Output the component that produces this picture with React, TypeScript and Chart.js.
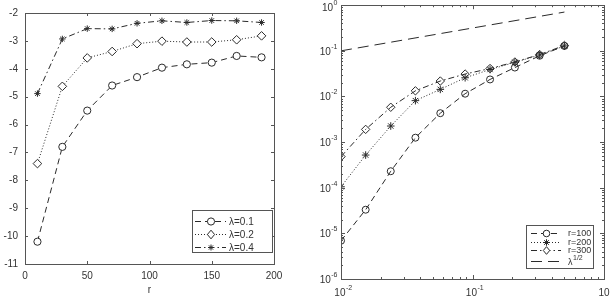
import React, { useEffect, useRef } from "react";
import { Chart, registerables } from "chart.js";
Chart.register(...registerables);

// ---------- Left panel data ----------
const leftR = [10, 30, 50, 70, 90, 110, 130, 150, 170, 190];
const leftLambda01 = [-10.2, -6.8, -5.5, -4.6, -4.3, -3.96, -3.84, -3.78, -3.54, -3.59];
const leftLambda02 = [-7.4, -4.63, -3.61, -3.38, -3.1, -3.01, -3.04, -3.04, -2.96, -2.82];
const leftLambda04 = [-4.89, -2.93, -2.56, -2.57, -2.37, -2.28, -2.34, -2.27, -2.28, -2.34];
const leftXTicks = [0, 50, 100, 150, 200];
const leftYTicks = [-2, -3, -4, -5, -6, -7, -8, -9, -10, -11];
const leftLabels = ["λ=0.1", "λ=0.2", "λ=0.4"];

// ---------- Right panel data ----------
const rightLambda = [0.01, 0.0154, 0.0239, 0.0368, 0.0569, 0.0879, 0.136, 0.21, 0.324, 0.5];
const rightR100 = [6.9e-6, 3.3e-5, 2.3e-4, 1.25e-3, 4.3e-3, 0.0115, 0.0236, 0.043, 0.078, 0.128];
const rightR200 = [1.05e-4, 5.2e-4, 2.25e-3, 8.1e-3, 0.0143, 0.0257, 0.039, 0.056, 0.081, 0.128];
const rightR300 = [4.8e-4, 1.9e-3, 5.8e-3, 0.0133, 0.0218, 0.031, 0.041, 0.057, 0.083, 0.131];
const sqrtLambdaX = [0.01, 0.5];
const sqrtLambdaY = [0.1, 0.707];
const rightXExps = [-2, -1, 0];
const rightYExps = [0, -1, -2, -3, -4, -5, -6];
const rightLabels = ["r=100", "r=200", "r=300"];

const FONT = "'Liberation Sans', Arial, sans-serif";
const LINE = "#2a2a2a";
const FRAME = "#555555";
const TEXT = "#333333";

const DASH = [6, 4];
const DOT = [1, 2];
const DASHDOT = [6, 3, 1.5, 3];
const LONGDASH = [11, 6];

function drawMarker(ctx: CanvasRenderingContext2D, style: string, x: number, y: number, r: number, fill: string) {
  ctx.save();
  ctx.setLineDash([]);
  ctx.strokeStyle = LINE;
  ctx.lineWidth = 1;
  ctx.beginPath();
  if (style === "circle") {
    ctx.arc(x, y, r, 0, Math.PI * 2);
  } else if (style === "diamond") {
    ctx.moveTo(x, y - r * 1.2);
    ctx.lineTo(x + r, y);
    ctx.lineTo(x, y + r * 1.2);
    ctx.lineTo(x - r, y);
    ctx.closePath();
  } else if (style === "star") {
    for (let i = 0; i < 4; i++) {
      const a = (i * Math.PI) / 4;
      ctx.moveTo(x - r * Math.cos(a), y - r * Math.sin(a));
      ctx.lineTo(x + r * Math.cos(a), y + r * Math.sin(a));
    }
  }
  if (fill !== "none" && style !== "star") {
    ctx.fillStyle = fill;
    ctx.fill();
  }
  ctx.stroke();
  ctx.restore();
}

function drawPow(
  ctx: CanvasRenderingContext2D,
  base: string,
  exp: string,
  x: number,
  y: number,
  align: "left" | "right" | "center",
  size: number,
  esize: number,
  raise: number
) {
  ctx.save();
  ctx.fillStyle = TEXT;
  ctx.textBaseline = "alphabetic";
  ctx.textAlign = "left";
  ctx.font = `${size}px ${FONT}`;
  const wb = ctx.measureText(base).width;
  ctx.font = `${esize}px ${FONT}`;
  const we = ctx.measureText(exp).width;
  const total = wb + we;
  let sx = x;
  if (align === "right") sx = x - total;
  else if (align === "center") sx = x - total / 2;
  ctx.font = `${size}px ${FONT}`;
  ctx.fillText(base, sx, y);
  ctx.font = `${esize}px ${FONT}`;
  ctx.fillText(exp, sx + wb + 0.5, y - raise);
  ctx.restore();
}

function drawFrame(ctx: CanvasRenderingContext2D, a: any) {
  ctx.save();
  ctx.strokeStyle = FRAME;
  ctx.lineWidth = 1;
  ctx.setLineDash([]);
  ctx.strokeRect(Math.round(a.left) + 0.5, Math.round(a.top) + 0.5, Math.round(a.right - a.left), Math.round(a.bottom - a.top));
  ctx.restore();
}

function tickX(ctx: CanvasRenderingContext2D, a: any, px: number, len: number) {
  const x = Math.round(px) + 0.5;
  ctx.moveTo(x, a.bottom);
  ctx.lineTo(x, a.bottom - len);
  ctx.moveTo(x, a.top);
  ctx.lineTo(x, a.top + len);
}
function tickY(ctx: CanvasRenderingContext2D, a: any, py: number, len: number) {
  const y = Math.round(py) + 0.5;
  ctx.moveTo(a.left, y);
  ctx.lineTo(a.left + len, y);
  ctx.moveTo(a.right, y);
  ctx.lineTo(a.right - len, y);
}

export default function App() {
  const leftRef = useRef<HTMLCanvasElement>(null);
  const rightRef = useRef<HTMLCanvasElement>(null);

  useEffect(() => {
    const common: any = {
      animation: false,
      responsive: false,
      maintainAspectRatio: false,
      events: [],
      plugins: { legend: { display: false }, tooltip: { enabled: false }, title: { display: false } },
    };

    const leftSeries = [leftLambda01, leftLambda02, leftLambda04];
    const leftStyles: any[] = [
      { dash: DASH, point: "circle", radius: 3.6, legendStyle: "circle", fill: "#ffffff" },
      { dash: DOT, point: "rectRot", radius: 4.3, legendStyle: "diamond", fill: "#ffffff" },
      { dash: DASHDOT, point: "star", radius: 3.2, legendStyle: "star", fill: "none" },
    ];

    const leftPlugin = {
      id: "leftDeco",
      afterDraw(chart: any) {
        const { ctx, chartArea: a, scales } = chart;
        drawFrame(ctx, a);
        ctx.save();
        ctx.strokeStyle = FRAME;
        ctx.lineWidth = 1;
        ctx.beginPath();
        leftXTicks.forEach((v) => tickX(ctx, a, scales.x.getPixelForValue(v), 3));
        leftYTicks.forEach((v) => tickY(ctx, a, scales.y.getPixelForValue(v), 3));
        ctx.stroke();
        ctx.restore();

        // legend
        const bx = 192, by = 210, bw = 80, bh = 42;
        ctx.save();
        ctx.fillStyle = "#ffffff";
        ctx.fillRect(bx, by, bw, bh);
        ctx.strokeStyle = FRAME;
        ctx.lineWidth = 1;
        ctx.strokeRect(bx + 0.5, by + 0.5, bw, bh);
        const rows = [221, 234, 247];
        leftStyles.forEach((s, i) => {
          const y = rows[i] + 0.5;
          ctx.beginPath();
          ctx.strokeStyle = LINE;
          ctx.setLineDash(s.dash);
          ctx.moveTo(195, y);
          ctx.lineTo(226, y);
          ctx.stroke();
          ctx.setLineDash([]);
          drawMarker(ctx, s.legendStyle, 211, y, s.legendStyle === "star" ? 3 : 3.6, s.fill);
          ctx.fillStyle = TEXT;
          ctx.font = `10px ${FONT}`;
          ctx.textBaseline = "middle";
          ctx.textAlign = "left";
          ctx.fillText(leftLabels[i], 229, y + 0.5);
        });
        ctx.restore();
      },
    };

    const leftChart = new Chart(leftRef.current!, {
      type: "line",
      data: {
        datasets: leftSeries.map((vals, i) => ({
          label: leftLabels[i],
          data: leftR.map((r, j) => ({ x: r, y: vals[j] })),
          borderColor: LINE,
          borderWidth: 1,
          borderDash: leftStyles[i].dash,
          backgroundColor: leftStyles[i].fill === "none" ? LINE : leftStyles[i].fill,
          pointStyle: leftStyles[i].point,
          pointRadius: leftStyles[i].radius,
          pointBorderColor: LINE,
          pointBorderWidth: 1,
          pointBackgroundColor: leftStyles[i].fill === "none" ? LINE : leftStyles[i].fill,
          fill: false,
          tension: 0,
        })),
      },
      options: {
        ...common,
        layout: { padding: { left: 0, right: 26, top: 7, bottom: 0 } },
        scales: {
          x: {
            type: "linear",
            min: 0,
            max: 200,
            grid: { display: false, drawTicks: false },
            border: { display: false },
            afterBuildTicks: (s: any) => {
              s.ticks = leftXTicks.map((v) => ({ value: v }));
            },
            ticks: { font: { family: FONT, size: 10 }, color: TEXT, padding: 6, maxRotation: 0, autoSkip: false },
            title: { display: true, text: "r", font: { family: FONT, size: 10 }, color: TEXT, padding: { top: 0, bottom: 5 } },
            afterFit: (s: any) => {
              s.height = 37;
            },
          },
          y: {
            type: "linear",
            min: -11,
            max: -2,
            grid: { display: false, drawTicks: false },
            border: { display: false },
            afterBuildTicks: (s: any) => {
              s.ticks = leftYTicks.map((v) => ({ value: v }));
            },
            ticks: { font: { family: FONT, size: 10 }, color: TEXT, padding: 7, autoSkip: false },
            afterFit: (s: any) => {
              s.width = 25;
            },
          },
        },
      } as any,
      plugins: [leftPlugin as any],
    });

    // ---------- Right chart ----------
    const rightSeries = [rightR100, rightR200, rightR300];
    const rightStyles: any[] = [
      { dash: DASH, point: "circle", radius: 3.5, legendStyle: "circle" },
      { dash: DOT, point: "star", radius: 3.8, legendStyle: "star" },
      { dash: DASHDOT, point: "rectRot", radius: 4.2, legendStyle: "diamond" },
    ];

    const rightPlugin = {
      id: "rightDeco",
      afterDraw(chart: any) {
        const { ctx, chartArea: a, scales } = chart;
        drawFrame(ctx, a);
        ctx.save();
        ctx.strokeStyle = FRAME;
        ctx.lineWidth = 1;
        ctx.beginPath();
        rightXExps.forEach((e) => {
          const dec = Math.pow(10, e);
          tickX(ctx, a, scales.x.getPixelForValue(dec), 4);
          if (e < 0) {
            for (let m = 2; m <= 9; m++) tickX(ctx, a, scales.x.getPixelForValue(m * dec), 2);
          }
        });
        rightYExps.forEach((e) => {
          const dec = Math.pow(10, e);
          tickY(ctx, a, scales.y.getPixelForValue(dec), 4);
          if (e < 0) {
            for (let m = 2; m <= 9; m++) tickY(ctx, a, scales.y.getPixelForValue(m * dec), 2);
          }
        });
        ctx.stroke();
        ctx.restore();

        // tick labels
        rightXExps.forEach((e) => {
          const px = scales.x.getPixelForValue(Math.pow(10, e));
          drawPow(ctx, "10", String(e), px + 2, 296, "center", 10, 7, 6);
        });
        rightYExps.forEach((e) => {
          const py = scales.y.getPixelForValue(Math.pow(10, e));
          drawPow(ctx, "10", String(e), a.left - 4, Math.max(py + 4, 11), "right", 10, 7, 6);
        });

        // legend
        const bx = 226, by = 225, bw = 67, bh = 43;
        ctx.save();
        ctx.fillStyle = "#ffffff";
        ctx.fillRect(bx, by, bw, bh);
        ctx.strokeStyle = FRAME;
        ctx.lineWidth = 1;
        ctx.strokeRect(bx + 0.5, by + 0.5, bw, bh);
        const rows = [233, 241.5, 250];
        rightStyles.forEach((s, i) => {
          const y = Math.round(rows[i]) + 0.5;
          ctx.beginPath();
          ctx.strokeStyle = LINE;
          ctx.setLineDash(s.dash);
          ctx.moveTo(231, y);
          ctx.lineTo(261, y);
          ctx.stroke();
          ctx.setLineDash([]);
          drawMarker(ctx, s.legendStyle, 246.5, y, s.legendStyle === "diamond" ? 3.2 : 3.3, s.legendStyle === "star" ? "none" : "#ffffff");
          ctx.fillStyle = TEXT;
          ctx.font = `9px ${FONT}`;
          ctx.textBaseline = "middle";
          ctx.textAlign = "left";
          ctx.fillText(rightLabels[i], 268, y + 0.5);
        });
        const ly = 261.5;
        ctx.beginPath();
        ctx.strokeStyle = LINE;
        ctx.setLineDash(LONGDASH);
        ctx.moveTo(231, ly);
        ctx.lineTo(261, ly);
        ctx.stroke();
        ctx.setLineDash([]);
        drawPow(ctx, "λ", "1/2", 268, ly + 3.5, "left", 9, 7, 5);
        ctx.restore();
      },
    };

    const rightChart = new Chart(rightRef.current!, {
      type: "line",
      data: {
        datasets: [
          ...rightSeries.map((vals, i) => ({
            label: rightLabels[i],
            data: rightLambda.map((l, j) => ({ x: l, y: vals[j] })),
            borderColor: LINE,
            borderWidth: 1,
            borderDash: rightStyles[i].dash,
            backgroundColor: "rgba(0,0,0,0)",
            pointStyle: rightStyles[i].point,
            pointRadius: rightStyles[i].radius,
            pointBorderColor: LINE,
            pointBorderWidth: 1,
            pointBackgroundColor: "rgba(0,0,0,0)",
            fill: false,
            tension: 0,
          })),
          {
            label: "λ^1/2",
            data: sqrtLambdaX.map((l, j) => ({ x: l, y: sqrtLambdaY[j] })),
            borderColor: LINE,
            borderWidth: 1,
            borderDash: LONGDASH,
            pointRadius: 0,
            fill: false,
            tension: 0,
          },
        ],
      },
      options: {
        ...common,
        layout: { padding: { left: 0, right: 6, top: 5, bottom: 0 } },
        scales: {
          x: {
            type: "logarithmic",
            min: 0.01,
            max: 1,
            grid: { display: false, drawTicks: false },
            border: { display: false },
            ticks: { display: false },
            afterFit: (s: any) => {
              s.height = 22;
            },
          },
          y: {
            type: "logarithmic",
            min: 1e-6,
            max: 1,
            grid: { display: false, drawTicks: false },
            border: { display: false },
            ticks: { display: false },
            afterFit: (s: any) => {
              s.width = 41;
            },
          },
        },
      } as any,
      plugins: [rightPlugin as any],
    });

    return () => {
      leftChart.destroy();
      rightChart.destroy();
    };
  }, []);

  return (
    <div style={{ position: "fixed", left: 0, top: 0, width: 610, height: 301, background: "#ffffff", overflow: "hidden" }}>
      <canvas ref={leftRef} width={300} height={301} style={{ position: "absolute", left: 0, top: 0, width: 300, height: 301 }} />
      <canvas ref={rightRef} width={310} height={301} style={{ position: "absolute", left: 300, top: 0, width: 310, height: 301 }} />
    </div>
  );
}
